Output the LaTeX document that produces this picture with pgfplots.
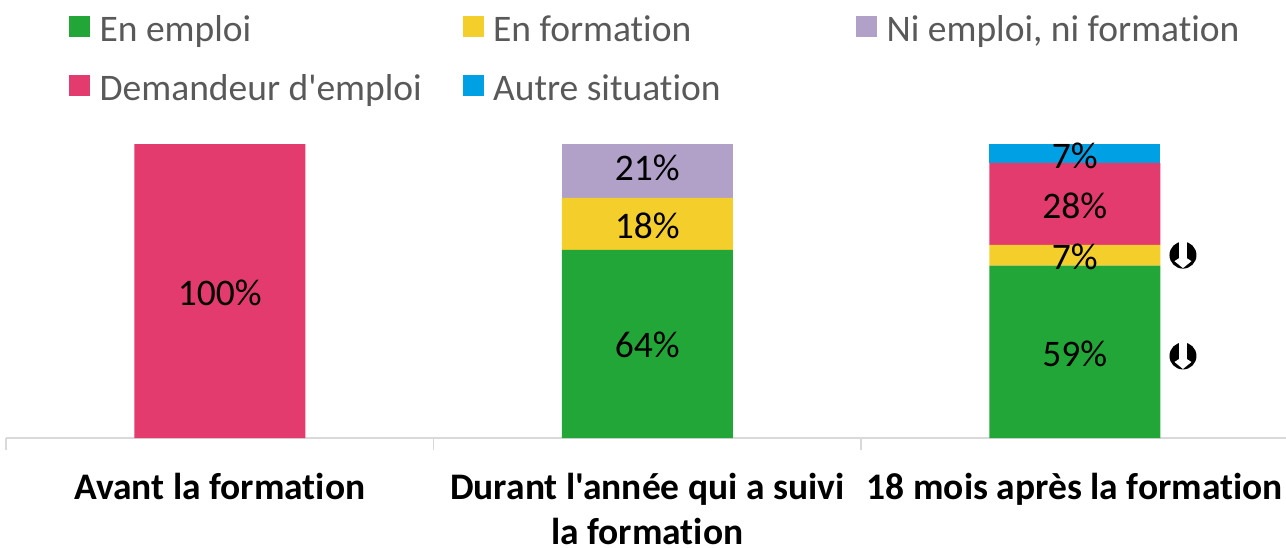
\documentclass[border=0pt]{standalone}
\usepackage{fontspec}
\setmainfont{Carlito}[Ligatures={TeXOff,NoCommon}]
\usepackage{pgfplots}
\pgfplotsset{compat=1.18}
\definecolor{cA}{HTML}{23A638}
\definecolor{cB}{HTML}{F4CE2B}
\definecolor{cC}{HTML}{B1A0C7}
\definecolor{cD}{HTML}{E43B6F}
\definecolor{cE}{HTML}{00A1E4}
\definecolor{lg}{HTML}{595959}
\definecolor{ax}{HTML}{D9D9D9}
\newcommand{\fl}{\fontsize{37.5}{45}\selectfont}
\pgfdeclareplotmark{downarrow}{%
  \pgfsetfillcolor{black}\pgfpathcircle{\pgfpointorigin}{13.5pt}\pgfusepath{fill}%
  \pgfsetfillcolor{white}%
  \pgfpathmoveto{\pgfpoint{-3.8pt}{14pt}}%
  \pgfpathlineto{\pgfpoint{3.8pt}{14pt}}%
  \pgfpathlineto{\pgfpoint{3.8pt}{-3pt}}%
  \pgfpathlineto{\pgfpoint{8.5pt}{-6pt}}%
  \pgfpathlineto{\pgfpoint{0pt}{-13pt}}%
  \pgfpathlineto{\pgfpoint{-8.5pt}{-6pt}}%
  \pgfpathlineto{\pgfpoint{-3.8pt}{-3pt}}%
  \pgfpathclose\pgfusepath{fill}%
}
\pgfplotsset{base/.style={
  at={(6pt,109pt)},anchor=south west,scale only axis,
  width=1280pt,height=294pt,
  xmin=-0.5,xmax=2.494,ymin=0,ymax=100}}
\begin{document}
\begin{tikzpicture}[x=1pt,y=1pt]
\useasboundingbox (0,0) rectangle (1286,547);
\begin{axis}[base,
  ybar stacked,bar width=171pt,
  axis y line=none,axis x line*=bottom,
  axis line style={ax,line width=1.6pt},
  xtick={0,1,2},
  xticklabels={Avant la formation,{Durant l'année qui a suivi\\la formation},18 mois après la formation},
  xticklabel style={font=\fl\bfseries,align=center,text=black,yshift=-31.5pt},
  major tick length=0pt,
  minor xtick={-0.5,0.5,1.5},
  minor tick length=12pt,
  tick align=outside,
  minor tick style={ax,line width=1.6pt},
  legend columns=3,
  legend cell align=left,
  legend style={draw=none,fill=none,at={(0.0468,1.4625)},anchor=north west,font=\fl,text=lg,
     /tikz/every node/.append style={inner xsep=5pt,inner ysep=0pt},
     /tikz/row sep=26pt,
     legend cell align=left},
  legend image code/.code={\fill[#1,draw=none] (0,-10.5pt) rectangle (21pt,10.5pt);},
]
\addplot[fill=cA,draw=none] coordinates {(0,0) (1,64) (2,58.6)};
\addplot[fill=cB,draw=none] coordinates {(0,0) (1,17.7) (2,7.1)};
\addplot[fill=cC,draw=none] coordinates {(0,0) (1,21) (2,0)};
\addplot[fill=cD,draw=none] coordinates {(0,100) (1,0) (2,27.9)};
\addplot[fill=cE,draw=none] coordinates {(0,0) (1,0) (2,7)};
\legend{\hspace*{4.5pt}\makebox[358pt][l]{\strut En emploi},\hspace*{4.5pt}\makebox[358pt][l]{\strut En formation},\hspace*{4.5pt}\strut Ni emploi{,} ni formation,\hspace*{4.5pt}\strut Demandeur d'emploi,\hspace*{4.5pt}\strut Autre situation}
\end{axis}
\begin{axis}[base,hide axis,clip=false]
\addplot[only marks,mark=downarrow] coordinates {(2.253,62.2) (2.253,27.9)};
\addplot[only marks,mark=none,
  nodes near coords,point meta=explicit symbolic,
  every node near coord/.append style={font=\fl,text=black,anchor=center}]
  coordinates {(0,49.3)[100\%] (1,31.6)[64\%] (1,72.1)[18\%] (1,91.8)[21\%]
               (2,28.6)[59\%] (2,61.6)[7\%] (2,78.9)[28\%] (2,95.9)[7\%]};
\end{axis}
\end{tikzpicture}
\end{document}
